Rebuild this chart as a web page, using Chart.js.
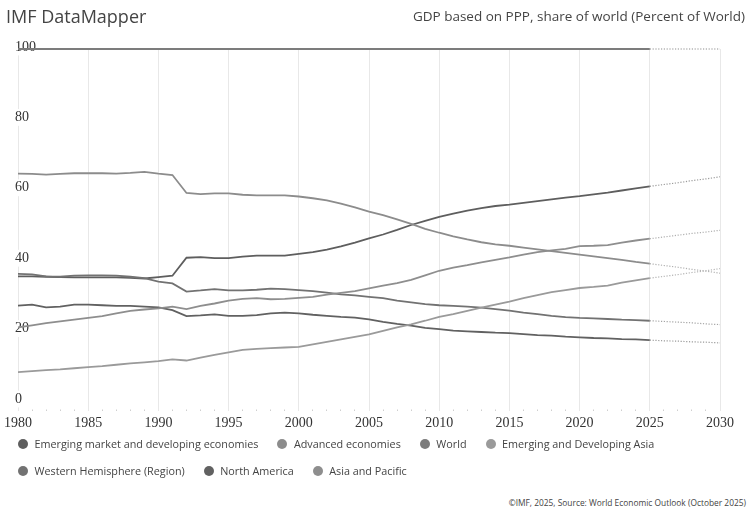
<!DOCTYPE html>
<html>
<head>
<meta charset="utf-8">
<script src="https://cdn.jsdelivr.net/npm/chart.js@4.4.1/dist/chart.umd.min.js"></script>
<style>
html,body{margin:0;padding:0;background:#fff;}
#wrap{position:relative;width:750px;height:515px;overflow:hidden;font-family:'Open Sans',sans-serif;background:#fff;}
#title{position:absolute;left:6px;top:4px;font-size:18px;color:#444;white-space:nowrap;}
#sub{position:absolute;right:5px;top:7px;font-size:13.5px;color:#444;white-space:nowrap;}
#cv{position:absolute;left:0;top:0;}
#legend{position:absolute;left:18px;top:430px;width:725px;font-size:10.8px;color:#444;}
.row{display:flex;height:27px;align-items:center;white-space:nowrap;}
.item{display:flex;align-items:center;margin-right:19px;}
.dot{width:10px;height:10px;border-radius:50%;margin-right:6.5px;flex:none;}
#foot{position:absolute;right:4px;top:497px;font-size:8.4px;color:#444;white-space:nowrap;}
</style>
</head>
<body>
<div id="wrap">
  <canvas id="cv" width="750" height="435"></canvas>
  <div id="title">IMF DataMapper</div>
  <div id="sub">GDP based on PPP, share of world (Percent of World)</div>
  <div id="legend"></div>
  <div id="foot">©IMF, 2025, Source: World Economic Outlook (October 2025)</div>
</div>
<script>
const years = [1980,1981,1982,1983,1984,1985,1986,1987,1988,1989,
  1990,1991,1992,1993,1994,1995,1996,1997,1998,1999,
  2000,2001,2002,2003,2004,2005,2006,2007,2008,2009,
  2010,2011,2012,2013,2014,2015,2016,2017,2018,2019,
  2020,2021,2022,2023,2024,2025,2026,2027,2028,2029,2030];

const yTicks = [0,20,40,60,80,100];
const lastActualYear = 2025;

const emde = [35.4,35.4,35.3,35.2,35.1,35.1,35.1,35.1,35.0,34.8,
  35.2,35.6,40.7,40.9,40.6,40.6,41.0,41.3,41.3,41.3,
  41.8,42.3,43.0,43.9,45.0,46.2,47.3,48.6,50.0,51.2,
  52.3,53.2,54.1,54.8,55.4,55.8,56.3,56.8,57.3,57.8,
  58.2,58.7,59.2,59.8,60.4,61.0,61.5,62.0,62.6,63.1,63.7];

const advanced = [64.6,64.5,64.3,64.5,64.7,64.7,64.7,64.6,64.8,65.1,
  64.6,64.2,59.1,58.8,59.0,59.0,58.6,58.4,58.4,58.4,
  58.1,57.6,57.0,56.1,55.0,53.8,52.8,51.6,50.3,48.9,
  47.8,46.8,45.9,45.1,44.5,44.1,43.6,43.1,42.6,42.1,
  41.6,41.1,40.6,40.1,39.5,39.0,38.5,38.0,37.4,36.9,36.3];

const world = [100,100,100,100,100,100,100,100,100,100,
  100,100,100,100,100,100,100,100,100,100,
  100,100,100,100,100,100,100,100,100,100,
  100,100,100,100,100,100,100,100,100,100,
  100,100,100,100,100,100,100,100,100,100,100];

const devAsia = [8.2,8.5,8.8,9.0,9.3,9.6,9.9,10.3,10.7,11.0,
  11.3,11.8,11.5,12.3,13.1,13.8,14.5,14.8,15.0,15.2,
  15.4,16.1,16.8,17.5,18.2,18.9,19.9,20.9,21.8,22.8,
  23.9,24.7,25.6,26.5,27.4,28.2,29.2,30.1,30.9,31.5,
  32.1,32.4,32.8,33.6,34.3,34.9,35.4,35.9,36.5,37.0,37.6];

const westHem = [36.1,36.0,35.4,35.3,35.6,35.7,35.7,35.6,35.3,34.9,
  33.9,33.4,31.1,31.4,31.8,31.4,31.4,31.6,31.9,31.8,
  31.5,31.2,30.8,30.3,30.0,29.6,29.2,28.5,28.0,27.5,
  27.2,27.0,26.8,26.5,26.1,25.7,25.1,24.7,24.2,23.8,
  23.6,23.5,23.3,23.1,23.0,22.8,22.6,22.4,22.2,21.9,21.7];

const northAm = [27.1,27.4,26.6,26.8,27.4,27.4,27.2,27.0,27.0,26.8,
  26.6,25.8,24.1,24.3,24.6,24.2,24.2,24.4,24.9,25.1,
  24.9,24.5,24.2,23.9,23.7,23.2,22.5,21.9,21.4,20.8,
  20.4,20.0,19.8,19.6,19.4,19.3,19.0,18.7,18.6,18.3,
  18.1,17.9,17.8,17.6,17.5,17.3,17.1,17.0,16.8,16.7,16.5];

const asiaPac = [20.9,21.5,22.1,22.6,23.1,23.6,24.1,24.9,25.6,26.0,
  26.3,26.8,26.1,27.0,27.7,28.5,29.0,29.2,28.9,29.0,
  29.3,29.6,30.2,30.7,31.2,32.0,32.8,33.5,34.4,35.7,
  37.0,37.9,38.6,39.4,40.1,40.8,41.6,42.3,42.8,43.2,
  44.0,44.1,44.3,45.0,45.6,46.1,46.6,47.1,47.6,48.0,48.5];

const seriesNames = ['Emerging market and developing economies','Advanced economies','World','Emerging and Developing Asia',
  'Western Hemisphere (Region)','North America','Asia and Pacific'];
const seriesValues = [emde, advanced, world, devAsia, westHem, northAm, asiaPac];
const seriesColors = ['#5e5e5e','#8c8c8c','#7c7c7c','#9a9a9a','#727272','#616161','#8e8e8e'];
const projColors = ['#9a9a9a','#b0b0b0','#8e8e8e','#b4b4b4','#a4a4a4','#9a9a9a','#b0b0b0'];
const legendRows = [[0,1,2,3],[4,5,6]];

// HTML legend
const legendEl = document.getElementById('legend');
legendRows.forEach(r => {
  const row = document.createElement('div'); row.className = 'row';
  r.forEach(i => {
    const it = document.createElement('div'); it.className = 'item';
    const d = document.createElement('span'); d.className = 'dot'; d.style.background = seriesColors[i];
    const t = document.createElement('span'); t.textContent = seriesNames[i];
    it.appendChild(d); it.appendChild(t); row.appendChild(it);
  });
  legendEl.appendChild(row);
});

const drawOrder = [2,1,3,6,4,5,0];
const datasets = drawOrder.map(i => ({
  label: seriesNames[i],
  data: years.map((y, k) => ({x: y, y: seriesValues[i][k]})),
  borderColor: seriesColors[i],
  backgroundColor: seriesColors[i],
  borderWidth: 1.8,
  pointRadius: 0,
  tension: 0,
  fill: false,
  clip: 6,
  segment: {
    borderDash: c => c.p0.parsed.x >= lastActualYear ? [1.2, 1.6] : undefined,
    borderWidth: c => c.p0.parsed.x >= lastActualYear ? 1.2 : undefined,
    borderColor: c => c.p0.parsed.x >= lastActualYear ? projColors[i] : undefined
  }
}));

const tickFont = {family: "'Liberation Serif', serif", size: 14};

new Chart(document.getElementById('cv'), {
  type: 'line',
  data: {datasets},
  options: {
    responsive: false,
    animation: false,
    layout: {padding: {left: 18, right: 30, top: 49, bottom: 0}},
    plugins: {legend: {display: false}, tooltip: {enabled: false}, title: {display: false}},
    scales: {
      x: {
        type: 'linear', min: years[0], max: years[years.length - 1],
        border: {display: false},
        grid: {
          color: c => (c.tick && c.tick.value % 5 === 0) ? '#e8e8e8' : 'rgba(0,0,0,0)',
          lineWidth: 1,
          tickLength: 10,
          tickColor: c => (c.tick && c.tick.value % 5 === 0) ? '#e8e8e8' : '#cfcfcf',
          tickBorderDash: c => (c.tick && c.tick.value % 5 === 0) ? [] : [0, 8.5, 1.5, 30]
        },
        ticks: {
          stepSize: 1, autoSkip: false, maxRotation: 0, minRotation: 0,
          color: '#333', font: tickFont, padding: 4,
          callback: v => (v % 5 === 0) ? String(v) : ''
        },
        afterFit: s => { s.height = 34; }
      },
      y: {
        min: 0, max: 100,
        z: 1,
        border: {display: false},
        grid: {display: false, drawTicks: false},
        afterBuildTicks: s => { s.ticks = yTicks.map(v => ({value: v})); },
        ticks: {
          mirror: true, padding: -3, crossAlign: 'near', labelOffset: -2,
          color: '#333', font: tickFont,
          showLabelBackdrop: true, backdropColor: '#ffffff', backdropPadding: {left: 0, right: 1, top: 0, bottom: 0},
          callback: v => String(v)
        },
        afterFit: s => { s.width = 0; }
      }
    }
  }
});
</script>
</body>
</html>
